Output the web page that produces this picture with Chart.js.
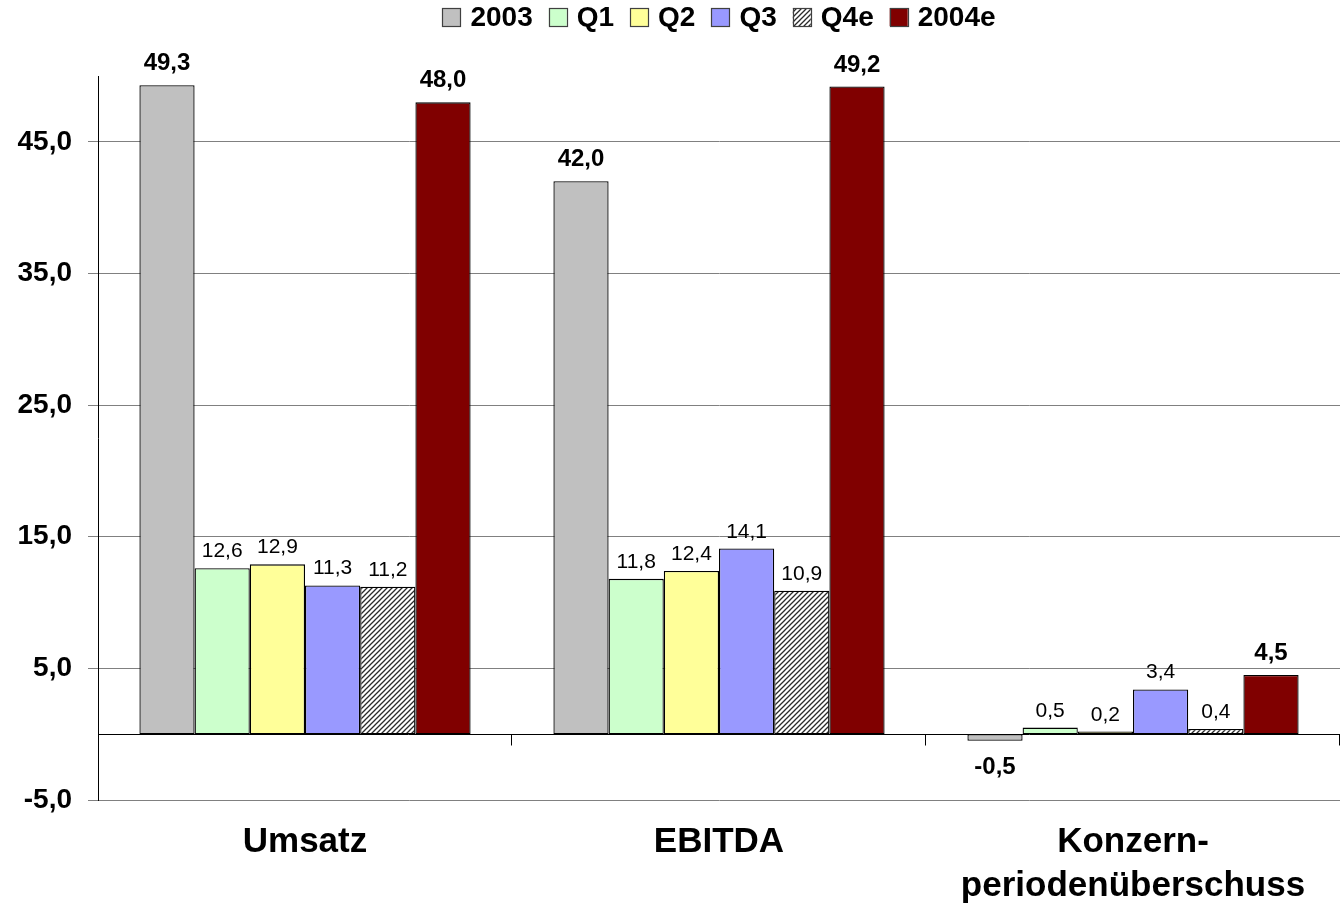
<!DOCTYPE html>
<html>
<head>
<meta charset="utf-8">
<script src="https://cdn.jsdelivr.net/npm/chart.js@4/dist/chart.umd.min.js"></script>
<style>
html,body{margin:0;padding:0;background:#fff;}
canvas{display:block;}
</style>
</head>
<body>
<canvas id="c" width="1343" height="906"></canvas>
<script>
// ---- data ----
const categories = ['Umsatz', 'EBITDA', ['Konzern-', 'periodenüberschuss']];
const seriesNames = ['2003', 'Q1', 'Q2', 'Q3', 'Q4e', '2004e'];
const values2003  = [49.3, 42.0, -0.5];
const valuesQ1    = [12.6, 11.8, 0.5];
const valuesQ2    = [12.9, 12.4, 0.2];
const valuesQ3    = [11.3, 14.1, 3.4];
const valuesQ4e   = [11.2, 10.9, 0.4];
const values2004e = [48.0, 49.2, 4.5];
const yTickValues = [-5, 5, 15, 25, 35, 45];
const yMin = -5, yMax = 50;

// ---- styles ----
const FONT = '"Liberation Sans", Arial, Helvetica, sans-serif';
function hatch() {
  const s = 5;
  const c = document.createElement('canvas');
  c.width = s; c.height = s;
  const x = c.getContext('2d');
  x.fillStyle = '#ffffff';
  x.fillRect(0, 0, s, s);
  x.strokeStyle = '#2a2a2a';
  x.lineWidth = 1.3;
  x.beginPath();
  x.moveTo(-1, s + 1); x.lineTo(s + 1, -1);
  x.moveTo(-1, 1); x.lineTo(1, -1);
  x.moveTo(s - 1, s + 1); x.lineTo(s + 1, s - 1);
  x.stroke();
  return x.createPattern(c, 'repeat');
}
const fills = ['#C0C0C0', '#CCFFCC', '#FFFF99', '#9999FF', hatch(), '#800000'];
const boldLabel = [true, false, false, false, false, true];
const seriesValues = [values2003, valuesQ1, valuesQ2, valuesQ3, valuesQ4e, values2004e];

const fmt = v => v.toFixed(1).replace('.', ',');

const datasets = seriesNames.map((n, i) => ({
  label: n,
  data: seriesValues[i],
  backgroundColor: fills[i],
  borderColor: '#000000',
  borderWidth: 1.3,
  borderSkipped: false,
  barPercentage: 1.0,
  categoryPercentage: 0.8,
  boldLabel: boldLabel[i]
}));

const decor = {
  id: 'decor',
  afterDatasetsDraw(chart) {
    const ctx = chart.ctx;
    const xs = chart.scales.x, ys = chart.scales.y;
    const area = chart.chartArea;
    const y0 = Math.round(ys.getPixelForValue(0)) + 0.5;
    ctx.save();
    // zero line with category tick marks
    ctx.strokeStyle = '#000';
    ctx.lineWidth = 1;
    ctx.beginPath();
    ctx.moveTo(area.left, y0); ctx.lineTo(area.right, y0);
    const n = categories.length;
    const catW = (xs.getPixelForValue(1) - xs.getPixelForValue(0));
    for (let i = 0; i < n; i++) {
      const bx = Math.round(xs.getPixelForValue(i) + catW / 2) - 0.5;
      ctx.moveTo(bx, y0); ctx.lineTo(bx, y0 + 11);
    }
    ctx.stroke();
    // data labels
    ctx.textAlign = 'center';
    ctx.textBaseline = 'alphabetic';
    chart.data.datasets.forEach((ds, di) => {
      const meta = chart.getDatasetMeta(di);
      meta.data.forEach((bar, i) => {
        const v = ds.data[i];
        ctx.fillStyle = '#000';
        ctx.font = ds.boldLabel ? 'bold 24px ' + FONT : '21px ' + FONT;
        if (v >= 0) {
          ctx.fillText(fmt(v), bar.x, bar.y - (ds.boldLabel ? 15 : 11));
        } else {
          ctx.fillText(fmt(v), bar.x, bar.y + 33);
        }
      });
    });
    ctx.restore();
  },
  afterDraw(chart) {
    // legend
    const ctx = chart.ctx;
    const area = chart.chartArea;
    ctx.save();
    ctx.font = 'bold 28px ' + FONT;
    const box = 18, gapBT = 10, gapItem = 16;
    const widths = seriesNames.map(n => box + gapBT + ctx.measureText(n).width);
    const total = widths.reduce((a, b) => a + b, 0) + gapItem * (seriesNames.length - 1);
    let x = (area.left + area.right) / 2 - total / 2;
    const cy = 17;
    ctx.textBaseline = 'middle';
    ctx.textAlign = 'left';
    seriesNames.forEach((n, i) => {
      ctx.fillStyle = fills[i];
      ctx.fillRect(x, cy - box / 2, box, box);
      ctx.strokeStyle = '#404040';
      ctx.lineWidth = 1.2;
      ctx.strokeRect(Math.round(x) + 0.5, Math.round(cy - box / 2) + 0.5, box, box);
      ctx.fillStyle = '#000';
      ctx.fillText(n, x + box + gapBT, cy + 1);
      x += widths[i] + gapItem;
    });
    ctx.restore();
  }
};

new Chart(document.getElementById('c'), {
  type: 'bar',
  data: { labels: categories, datasets },
  options: {
    responsive: false,
    animation: false,
    layout: { padding: { top: 76, right: 3, left: 0, bottom: 0 } },
    plugins: { legend: { display: false }, tooltip: { enabled: false } },
    scales: {
      x: {
        grid: { display: false, drawTicks: false },
        border: { display: false },
        ticks: {
          color: '#000',
          font: { family: FONT, size: 35, weight: 'bold', lineHeight: 1.27 },
          padding: 20,
          maxRotation: 0,
          autoSkip: false
        },
        afterFit(s) { s.height = 106; }
      },
      y: {
        min: yMin,
        max: yMax,
        afterBuildTicks(s) { s.ticks = yTickValues.map(v => ({ value: v })); },
        grid: { color: '#808080', lineWidth: 1, tickLength: 10, drawTicks: true },
        border: { display: true, color: '#000', width: 1 },
        ticks: {
          color: '#000',
          font: { family: FONT, size: 28, weight: 'bold' },
          padding: 16,
          callback: v => fmt(v)
        },
        afterFit(s) { s.width = 98; }
      }
    }
  },
  plugins: [decor]
});
</script>
</body>
</html>
